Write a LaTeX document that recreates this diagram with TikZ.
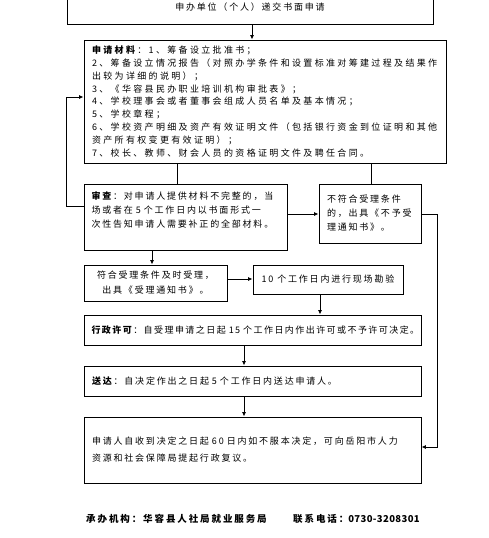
\documentclass[tikz,border=0pt]{standalone}
\usepackage{fontspec}
\setmainfont{Noto Sans CJK SC}[LetterSpace=20]
\usetikzlibrary{arrows.meta}
\begin{document}
\begin{tikzpicture}[x=1pt,y=-1pt,
  box/.style={draw, line width=0.9pt, inner sep=0pt, font=\fontsize{9}{14}\selectfont},
  arr/.style={-{Latex[length=4.5pt,width=4pt]}, line width=0.9pt},
  ln/.style={line width=0.9pt},
  foot/.style={anchor=west, inner sep=0pt, font=\fontsize{9.5}{12}\selectfont\bfseries}]
\useasboundingbox (0,0) rectangle (489,538);
\clip (0,0) rectangle (489,538);
\fill[white] (0,0) rectangle (489,538);
% boxes
\node[box, minimum width=366pt, minimum height=34pt, align=center] (top) at (250,7) {申办单位（个人）递交书面申请};
\node[box, minimum width=362pt, minimum height=123pt, text width=346pt, align=left, font=\fontsize{9}{12.9}\selectfont\addfontfeature{LetterSpace=26}] (mat) at (265,101.5) {\textbf{申请材料}：1、筹备设立批准书；\\2、筹备设立情况报告（对照办学条件和设置标准对筹建过程及结果作\\出较为详细的说明）；\\3、《华容县民办职业培训机构审批表》；\\4、学校理事会或者董事会组成人员名单及基本情况；\\5、学校章程；\\6、学校资产明细及资产有效证明文件（包括银行资金到位证明和其他\\资产所有权变更有效证明）；\\7、校长、教师、财会人员的资格证明文件及聘任合同。};
\node[box, minimum width=203pt, minimum height=66pt, text width=188pt, align=left] (review) at (185.5,217) {\textbf{审查}：对申请人提供材料不完整的，当\\场或者在~5~个工作日内以书面形式一\\次性告知申请人需要补正的全部材料。\\~};
\node[box, minimum width=102pt, minimum height=59pt, text width=86pt, align=left] (reject) at (370,213.5) {不符合受理条件\\的，出具《不予受\\理通知书》。};
\node[box, minimum width=143pt, minimum height=36pt, align=center, font=\fontsize{9}{15}\selectfont] (accept) at (155.5,283) {符合受理条件及时受理，\\出具《受理通知书》。};
\node[box, minimum width=150pt, minimum height=29pt, align=center] (field) at (328,279.5) {10~个工作日内进行现场勘验};
\node[box, minimum width=337pt, minimum height=30pt, text width=322pt, align=left, font=\fontsize{9}{14}\selectfont\addfontfeature{LetterSpace=16}] (permit) at (252.5,330) {\textbf{行政许可}：自受理申请之日起~15~个工作日内作出许可或不予许可决定。};
\node[box, minimum width=337pt, minimum height=30pt, text width=321pt, align=left] (deliver) at (252.5,381) {\textbf{送达}：自决定作出之日起~5~个工作日内送达申请人。};
\node[box, minimum width=337pt, minimum height=66pt, text width=321pt, align=left, font=\fontsize{9}{17}\selectfont] (final) at (252.5,450) {申请人自收到决定之日起~60~日内如不服本决定，可向岳阳市人力\\资源和社会保障局提起行政复议。};
% footer
\node[foot] (org) at (86,519) {承办机构：华容县人社局就业服务局};
\node[foot] (tel) at (293,519) {联系电话：{\addfontfeature{LetterSpace=4}0730-3208301}};
% connectors
\draw[arr] ([xshift=2pt]top.south) -- ([xshift=2pt]top.south |- mat.north);
\draw[ln] ([xshift=-8.5pt]review.north) -- ([xshift=-8.5pt]review.north |- mat.south);
\draw[ln] ([xshift=1pt]reject.north) -- ([xshift=1pt]reject.north |- mat.south);
\draw[arr] ([yshift=11pt]review.west) -- ++(-17,0) |- ([yshift=4.5pt]mat.west);
\draw[arr] ([yshift=3pt]review.east) -- ([yshift=3pt]review.east -| reject.west);
\draw[arr] ([yshift=-0.5pt]reject.east) -- ++(16,0) |- ([yshift=3pt]final.east);
\draw[arr] ([xshift=-33.5pt]review.south) -- ([xshift=-33.5pt]review.south |- accept.north);
\draw[arr] ([yshift=4pt]accept.east) -- ([yshift=4pt]accept.east -| field.west);
\draw[arr] ([xshift=-8pt]field.south) -- ([xshift=-8pt]field.south |- permit.north);
\draw[arr] ([xshift=-8.5pt]permit.south) -- ([xshift=-8.5pt]permit.south |- deliver.north);
\draw[arr] ([xshift=-8.5pt]deliver.south) -- ([xshift=-8.5pt]deliver.south |- final.north);
\end{tikzpicture}
\end{document}
